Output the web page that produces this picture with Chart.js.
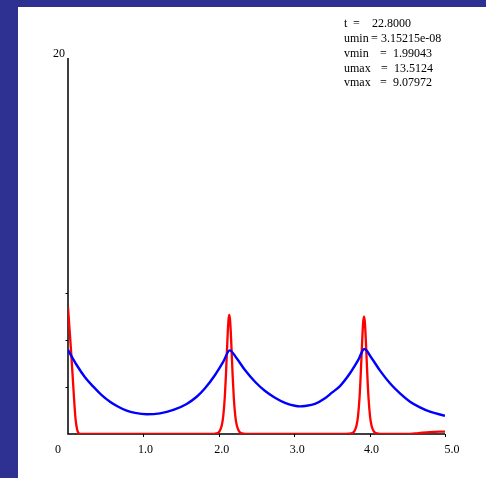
<!DOCTYPE html>
<html>
<head>
<meta charset="utf-8">
<script src="https://cdn.jsdelivr.net/npm/chart.js@4.4.0/dist/chart.umd.min.js"></script>
<style>
  html, body { margin: 0; padding: 0; background: #fff; overflow: hidden; }
  canvas { display: block; }
</style>
</head>
<body>
<canvas id="plot" width="486" height="478"></canvas>
<script>
// -----------------------------
// DATA
// -----------------------------
const vX = [0.00, 0.115, 0.225, 0.336, 0.447, 0.557, 0.667, 0.778, 0.889, 1.044, 1.22, 1.397, 1.574, 1.707, 1.817, 1.95, 2.06, 2.145,
            2.237, 2.347, 2.48, 2.61, 2.745, 2.878, 3.01, 3.08, 3.143, 3.276, 3.408, 3.50, 3.607, 3.74, 3.85, 3.93,
            4.028, 4.138, 4.27, 4.403, 4.536, 4.668, 4.80, 5.00];
const vY = [4.47, 3.67, 3.02, 2.52, 2.07, 1.72, 1.45, 1.24, 1.12, 1.05, 1.10, 1.28, 1.60, 1.98, 2.43, 3.14, 3.85, 4.45,
            4.03, 3.40, 2.78, 2.30, 1.93, 1.66, 1.50, 1.47, 1.49, 1.60, 1.90, 2.20, 2.55, 3.23, 3.94, 4.52,
            4.03, 3.37, 2.70, 2.16, 1.72, 1.42, 1.19, 0.97];

const uX = [0.00, 0.02, 0.04, 0.06, 0.08, 0.10, 0.12, 0.14, 0.17, 1.00,
            1.90, 1.969, 2.009, 2.039, 2.059, 2.079, 2.094, 2.109, 2.119, 2.129, 2.139,
            2.149, 2.159, 2.169, 2.184, 2.199, 2.219, 2.239, 2.269, 2.309, 2.40,
            3.60, 3.756, 3.796, 3.826, 3.846, 3.866, 3.881, 3.896, 3.906, 3.916, 3.926,
            3.936, 3.946, 3.956, 3.971, 3.986, 4.006, 4.026, 4.056, 4.096, 4.20,
            4.50, 4.65, 4.80, 5.00];
const uY = [6.75, 5.60, 4.45, 3.20, 1.90, 0.80, 0.25, 0.05, 0.00, 0.00,
            0.00, 0.03, 0.14, 0.45, 0.95, 1.93, 3.08, 4.50, 5.42, 6.08, 6.33,
            6.08, 5.42, 4.50, 3.08, 1.93, 0.95, 0.45, 0.14, 0.03, 0.00,
            0.00, 0.03, 0.14, 0.44, 0.94, 1.90, 3.04, 4.44, 5.34, 6.00, 6.24,
            6.00, 5.34, 4.44, 3.04, 1.90, 0.94, 0.44, 0.14, 0.03, 0.00,
            0.00, 0.05, 0.10, 0.13];

const xTickValues = [0, 1, 2, 3, 4, 5];
const xTickLabels = ['0', '1.0', '2.0', '3.0', '4.0', '5.0'];
const yTickValues = [2.5, 5, 7.5];
const yMax = 20;
const yTopLabel = '20';

const infoNames  = ['t', 'umin', 'vmin', 'umax', 'vmax'];
const infoValues = ['22.8000', '3.15215e-08', '1.99043', '13.5124', '9.07972'];

// -----------------------------
// STYLE
// -----------------------------
const FONT = '12px "Liberation Serif", "Times New Roman", serif';
const xLabelShift = [-10, 2, 3, 3, 2, 7];
const infoEqX = [353, 371, 380, 381, 380];
const infoValX = [372, 381, 393, 394, 393];

function toPoints(xs, ys) {
    return xs.map((x, i) => ({ x: x, y: ys[i] }));
}

// frame, axes and text
const framePlugin = {
    id: 'frame',
    beforeDraw(chart) {
        const ctx = chart.ctx;
        ctx.save();
        ctx.fillStyle = '#2e3192';
        ctx.fillRect(0, 0, chart.width, chart.height);
        ctx.fillStyle = '#ffffff';
        ctx.fillRect(18, 7, chart.width - 18, chart.height - 7);
        ctx.restore();
    },
    beforeDatasetsDraw(chart) {
        const ctx = chart.ctx;
        const xs = chart.scales.x, ys = chart.scales.y;
        const x0 = xs.getPixelForValue(0), x5 = xs.getPixelForValue(5);
        const y0 = ys.getPixelForValue(0), yTop = ys.getPixelForValue(yMax);
        ctx.save();
        ctx.strokeStyle = '#000';
        ctx.lineWidth = 1.5;
        ctx.beginPath();
        ctx.moveTo(x0, yTop);
        ctx.lineTo(x0, y0);
        ctx.lineTo(x5, y0);
        ctx.stroke();

        ctx.lineWidth = 1;
        ctx.beginPath();
        yTickValues.forEach(v => {
            const p = Math.round(ys.getPixelForValue(v)) + 0.5;
            ctx.moveTo(x0 - 2.5, p);
            ctx.lineTo(x0, p);
        });
        xTickValues.slice(1).forEach(v => {
            const p = Math.round(xs.getPixelForValue(v)) + 0.5;
            ctx.moveTo(p, y0);
            ctx.lineTo(p, y0 + 3);
        });
        ctx.stroke();

        ctx.fillStyle = '#000';
        ctx.font = FONT;
        ctx.textAlign = 'center';
        ctx.textBaseline = 'middle';
        xTickValues.forEach((v, i) => {
            ctx.fillText(xTickLabels[i], xs.getPixelForValue(v) + xLabelShift[i], y0 + 16);
        });
        ctx.fillText(yTopLabel, x0 - 9, yTop - 4);
        ctx.restore();
    },
    afterDraw(chart) {
        const ctx = chart.ctx;
        ctx.save();
        ctx.fillStyle = '#000';
        ctx.font = FONT;
        ctx.textAlign = 'left';
        ctx.textBaseline = 'middle';
        infoNames.forEach((name, i) => {
            const y = 24 + i * 14.8;
            ctx.fillText(name, 344, y);
            ctx.fillText('=', infoEqX[i], y);
            ctx.fillText(infoValues[i], infoValX[i], y);
        });
        ctx.restore();
    }
};

new Chart(document.getElementById('plot'), {
    type: 'scatter',
    data: {
        datasets: [
            {
                label: 'v',
                data: toPoints(vX, vY),
                showLine: true,
                borderColor: '#0000ff',
                borderWidth: 2.4,
                pointRadius: 0,
                cubicInterpolationMode: 'monotone'
            },
            {
                label: 'u',
                data: toPoints(uX, uY),
                showLine: true,
                borderColor: '#ff0000',
                borderWidth: 2.3,
                pointRadius: 0,
                cubicInterpolationMode: 'monotone'
            }
        ]
    },
    options: {
        responsive: false,
        animation: false,
        layout: { padding: { left: 68, right: 41, top: 58, bottom: 44 } },
        scales: {
            x: { type: 'linear', min: 0, max: 5, display: false },
            y: { type: 'linear', min: 0, max: yMax, display: false }
        },
        plugins: {
            legend: { display: false },
            tooltip: { enabled: false }
        }
    },
    plugins: [framePlugin]
});
</script>
</body>
</html>
